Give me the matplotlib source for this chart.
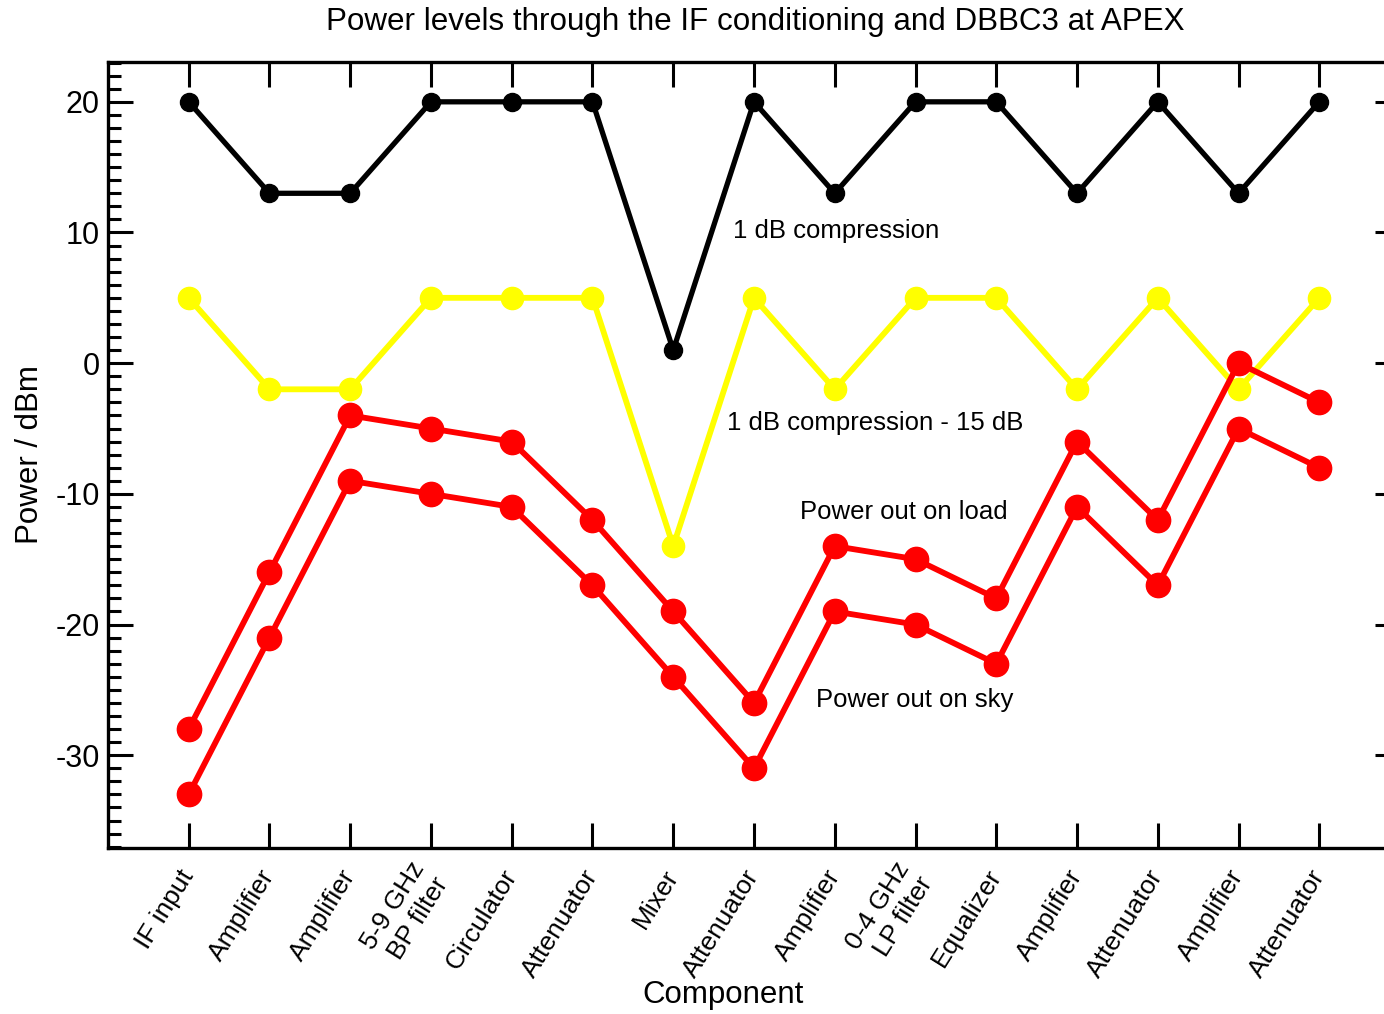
import matplotlib.pyplot as plt
from matplotlib.ticker import MultipleLocator

plt.rcParams['font.family'] = ['Liberation Sans', 'DejaVu Sans']
plt.rcParams['axes.unicode_minus'] = False

# Components along the IF chain
components = ['IF input', 'Amplifier', 'Amplifier', '5-9 GHz\nBP filter', 'Circulator',
              'Attenuator', 'Mixer', 'Attenuator', 'Amplifier', '0-4 GHz\nLP filter',
              'Equalizer', 'Amplifier', 'Attenuator', 'Amplifier', 'Attenuator']

# Power levels (dBm)
compression_1db = [20, 13, 13, 20, 20, 20, 1, 20, 13, 20, 20, 13, 20, 13, 20]
compression_minus15 = [5, -2, -2, 5, 5, 5, -14, 5, -2, 5, 5, -2, 5, -2, 5]
power_load = [-28, -16, -4, -5, -6, -12, -19, -26, -14, -15, -18, -6, -12, 0, -3]
power_sky = [-33, -21, -9, -10, -11, -17, -24, -31, -19, -20, -23, -11, -17, -5, -8]

x = list(range(len(components)))

fig = plt.figure(figsize=(13.84, 10.14), dpi=100)
ax = fig.add_axes([0.078, 0.1637, 0.9336, 0.7752])

ax.plot(x, compression_1db, color='black', lw=3.8, marker='o', ms=13, zorder=3)
ax.plot(x, compression_minus15, color='#ffff00', lw=4.2, marker='o', ms=16, zorder=4)
ax.plot(x, power_load, color='#ff0000', lw=4.2, marker='o', ms=17.5, zorder=5)
ax.plot(x, power_sky, color='#ff0000', lw=4.2, marker='o', ms=17.5, zorder=5)

# Curve labels
ax.text(6.74, 10.1, '1 dB compression', fontsize=18.5, va='center', ha='left')
ax.text(6.67, -4.55, '1 dB compression - 15 dB', fontsize=18.5, va='center', ha='left')
ax.text(7.57, -11.4, 'Power out on load', fontsize=18.5, va='center', ha='left')
ax.text(7.77, -25.75, 'Power out on sky', fontsize=18.5, va='center', ha='left')

ax.set_xlim(-1, 15)
ax.set_ylim(-37.1, 23.05)
ax.set_xticks(x)
ax.set_xticklabels(components, rotation=58, ha='right', va='center',
                   rotation_mode='anchor', fontsize=19)
ax.yaxis.set_major_locator(MultipleLocator(10))
ax.yaxis.set_minor_locator(MultipleLocator(1))
ax.tick_params(axis='both', which='major', direction='in', length=18, width=2.2,
               top=True, right=True)
ax.tick_params(axis='y', which='minor', direction='in', length=9.5, width=2.2, right=True)
ax.tick_params(axis='y', labelsize=22, pad=6)
ax.tick_params(axis='x', pad=17)
for sp in ax.spines.values():
    sp.set_linewidth(2.4)

fig.text(755 / 1384, 1 - 22 / 1014, 'Power levels through the IF conditioning and DBBC3 at APEX',
         fontsize=22.6, ha='center', va='center')
fig.text(30 / 1384, 1 - 455 / 1014, 'Power / dBm', fontsize=22.5, rotation=90,
         ha='center', va='center')
fig.text(723 / 1384, 1 - 995 / 1014, 'Component', fontsize=22.5, ha='center', va='center')

fig.savefig('out.png', dpi=100)
